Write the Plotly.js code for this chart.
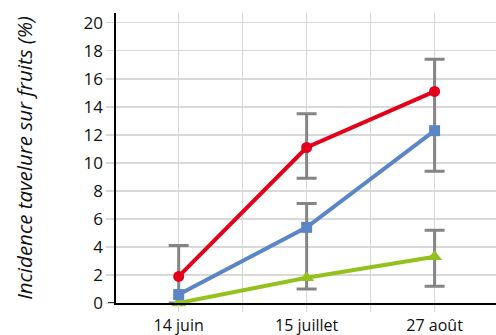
<!DOCTYPE html>
<html>
<head>
<meta charset="utf-8">
<script src="https://cdn.plot.ly/plotly-3.0.1.min.js"></script>
<style>
  html, body { margin: 0; padding: 0; background: #ffffff; }
  #chart { width: 496px; height: 335px; }
</style>
</head>
<body>
<div id="chart"></div>
<script>
// Sampling dates (category labels)
const dates = ['14 juin', '15 juillet', '27 août'];

// Fruit scab incidence (%) per treatment
const redSeries = [1.9, 11.1, 15.1];
const blueSeries = [0.6, 5.4, 12.3];
const greenSeries = [0.0, 1.8, 3.3];

// Variability ranges shown as whiskers (low / high, %)
const upperRangeLow = [0.0, 8.9, 9.4];
const upperRangeHigh = [4.1, 13.5, 17.4];
const lowerRangeLow = [null, 1.0, 1.2];
const lowerRangeHigh = [null, 7.1, 5.2];

const pos = dates.map((d, i) => i);

// Whisker trace: centre of each range with symmetric half-span
function whiskerTrace(low, high) {
  const mid = low.map((l, i) => (l == null ? null : (l + high[i]) / 2));
  const half = low.map((l, i) => (l == null ? null : (high[i] - l) / 2));
  return {
    x: pos, y: mid, type: 'scatter', mode: 'markers',
    marker: { size: 1, opacity: 0 },
    hoverinfo: 'skip', showlegend: false, cliponaxis: false,
    error_y: { type: 'data', array: half, symmetric: true,
               color: '#858585', thickness: 3, width: 10 }
  };
}

function seriesTrace(values, color, symbol, size) {
  return {
    x: pos, y: values, type: 'scatter', mode: 'lines+markers',
    line: { color: color, width: 4 },
    marker: { color: color, symbol: symbol, size: size },
    showlegend: false, cliponaxis: false
  };
}

const data = [
  whiskerTrace(upperRangeLow, upperRangeHigh),
  whiskerTrace(lowerRangeLow, lowerRangeHigh),
  seriesTrace(greenSeries, '#95c11f', 'triangle-up', 13),
  seriesTrace(blueSeries, '#5b86c6', 'square', 11),
  seriesTrace(redSeries, '#e2001a', 'circle', 11)
];

const layout = {
  width: 496, height: 335,
  margin: { l: 116, r: 0, t: 13, b: 32 },
  paper_bgcolor: '#ffffff', plot_bgcolor: '#ffffff',
  font: { family: 'Open Sans, sans-serif', size: 16, color: '#111111' },
  xaxis: {
    type: 'linear', range: [-0.49, 2.48],
    tickvals: [-0.5, 0, 0.5, 1, 1.5, 2, 2.5],
    ticktext: ['', dates[0], '', dates[1], '', dates[2], ''],
    showgrid: true, gridcolor: '#d9d9d9', gridwidth: 1.3,
    ticks: 'outside', ticklen: 7, tickcolor: '#d9d9d9', tickwidth: 1.3,
    showline: true, linecolor: '#000000', linewidth: 1.6,
    zeroline: false, fixedrange: true
  },
  yaxis: {
    range: [0, 20.7], tickvals: [0, 2, 4, 6, 8, 10, 12, 14, 16, 18, 20],
    tickfont: { size: 17 },
    showgrid: true, gridcolor: '#d9d9d9', gridwidth: 1.3,
    ticks: 'outside', ticklen: 8, tickcolor: '#d9d9d9', tickwidth: 1.3,
    showline: true, linecolor: '#000000', linewidth: 1.6,
    zeroline: false, fixedrange: true,
    title: { text: 'Incidence tavelure sur fruits (%)',
             font: { family: 'Open Sans, sans-serif', size: 20.5, style: 'italic', color: '#111111' },
             standoff: 45 }
  },
  shapes: [
    { type: 'line', xref: 'paper', xsizemode: 'pixel', xanchor: 0, x0: -8, x1: 0,
      yref: 'y', y0: 0, y1: 0, line: { color: '#000000', width: 1.6 }, layer: 'above' },
    { type: 'line', xref: 'paper', x0: 0, x1: 0,
      yref: 'y', ysizemode: 'pixel', yanchor: 0, y0: 0, y1: -7,
      line: { color: '#000000', width: 1.6 }, layer: 'above' }
  ]
};

Plotly.newPlot('chart', data, layout, { staticPlot: true, displayModeBar: false });
</script>
</body>
</html>
